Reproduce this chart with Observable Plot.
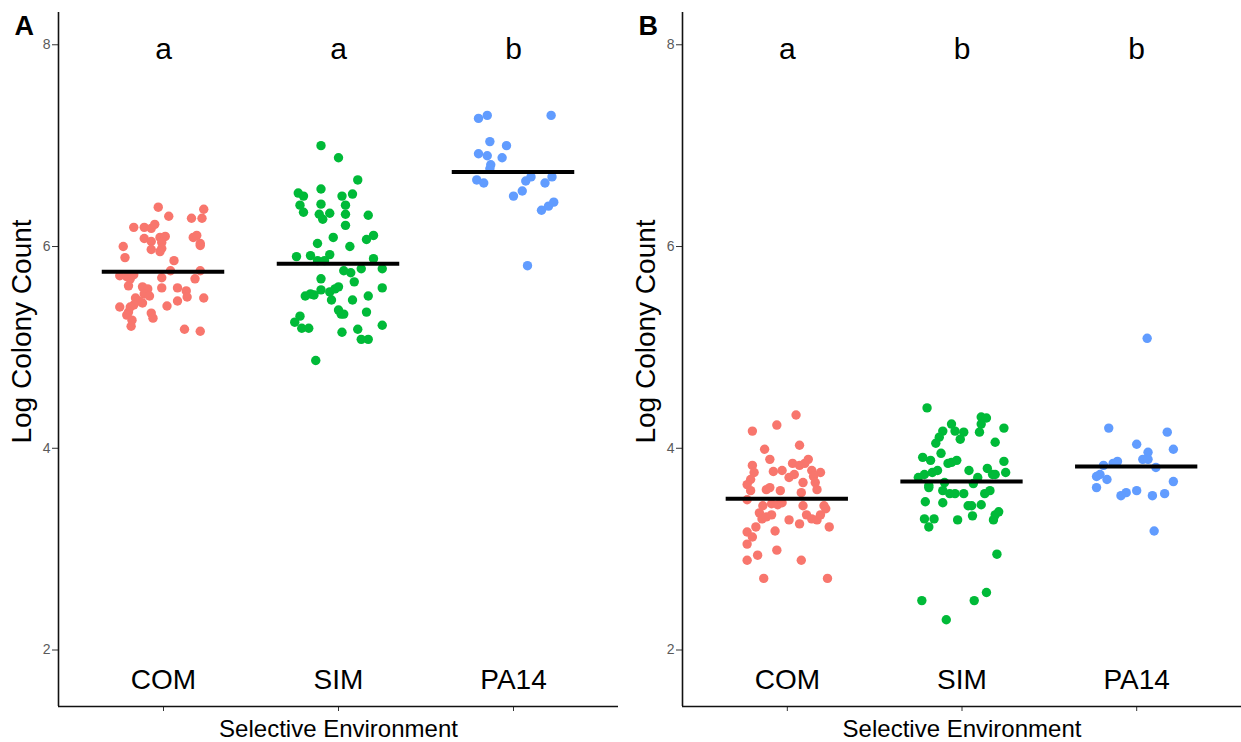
<!DOCTYPE html>
<html>
<head>
<meta charset="utf-8">
<script src="https://cdn.jsdelivr.net/npm/d3@7"></script>
<script src="https://cdn.jsdelivr.net/npm/@observablehq/plot@0.6"></script>
<style>
  html, body { margin: 0; padding: 0; background: #fff; }
  #chart { position: relative; width: 1241px; height: 742px; overflow: hidden; }
  #chart > div, #chart > svg { position: absolute; top: 0; }
</style>
</head>
<body>
<div id="chart"></div>
<script>
// ---------- data ----------
const categories = ["COM", "SIM", "PA14"];
const colors = ["#F8766D", "#00BA38", "#619CFF"];
const lettersA = ["a", "a", "b"];
const lettersB = ["a", "b", "b"];
const meansA = [5.75, 5.83, 6.74];
const meansB = [3.50, 3.67, 3.82];
const yTicks = [2, 4, 6, 8];
const xTitle = "Selective Environment";
const yTitle = "Log Colony Count";

// [jitter offset, value]
const comA = [[-0.03,6.39],[0.23,6.37],[0.03,6.30],[0.16,6.28],[0.22,6.28],[-0.17,6.19],[-0.11,6.19],[-0.07,6.18],[-0.05,6.22],[-0.11,6.08],[-0.07,6.05],[-0.02,6.09],[0.01,6.10],[-0.01,6.04],[0.17,6.09],[0.19,6.11],[0.21,6.03],[0.21,6.01],[-0.23,6.00],[-0.01,5.98],[-0.07,5.97],[-0.02,5.95],[-0.22,5.89],[0.06,5.86],[0.04,5.76],[0.21,5.76],[-0.25,5.71],[-0.21,5.70],[-0.17,5.72],[-0.19,5.68],[-0.20,5.61],[-0.01,5.69],[0.18,5.68],[-0.12,5.60],[-0.09,5.58],[-0.11,5.53],[-0.08,5.51],[-0.01,5.59],[0.08,5.59],[0.13,5.56],[0.135,5.50],[0.23,5.49],[-0.16,5.49],[-0.14,5.46],[-0.12,5.44],[-0.17,5.42],[-0.25,5.40],[-0.19,5.40],[0.08,5.46],[0.02,5.41],[-0.20,5.35],[-0.21,5.32],[-0.07,5.34],[-0.06,5.29],[-0.18,5.27],[-0.185,5.21],[0.12,5.18],[0.21,5.16]];
const simA = [[-0.10,7.00],[0.00,6.88],[0.11,6.66],[-0.10,6.57],[-0.23,6.53],[-0.20,6.50],[0.02,6.50],[0.08,6.52],[-0.22,6.41],[-0.10,6.42],[0.04,6.41],[-0.20,6.34],[-0.11,6.32],[-0.05,6.33],[0.04,6.32],[-0.09,6.27],[0.17,6.31],[0.04,6.21],[-0.03,6.09],[0.16,6.07],[0.20,6.11],[-0.12,6.03],[0.065,6.00],[-0.24,5.90],[-0.16,5.91],[-0.05,5.92],[-0.12,5.86],[-0.08,5.86],[0.20,5.88],[0.03,5.76],[0.07,5.74],[0.13,5.78],[0.25,5.78],[-0.10,5.68],[0.09,5.65],[0.25,5.59],[-0.10,5.57],[-0.19,5.51],[-0.16,5.53],[-0.14,5.52],[-0.05,5.55],[-0.02,5.58],[0.00,5.60],[-0.04,5.47],[0.17,5.51],[0.08,5.47],[0.00,5.37],[0.015,5.33],[0.03,5.33],[0.16,5.35],[-0.22,5.31],[-0.25,5.25],[-0.21,5.19],[-0.17,5.19],[0.02,5.15],[0.11,5.18],[0.25,5.22],[0.13,5.08],[0.17,5.08],[-0.13,4.87]];
const pa14A = [[-0.20,7.27],[-0.15,7.30],[0.215,7.30],[-0.135,7.04],[-0.04,7.00],[-0.20,6.92],[-0.15,6.90],[-0.065,6.88],[-0.13,6.81],[-0.135,6.77],[-0.21,6.66],[-0.17,6.63],[0.10,6.69],[0.07,6.65],[0.22,6.69],[0.18,6.63],[0.05,6.55],[0.00,6.50],[0.16,6.36],[0.20,6.40],[0.23,6.44],[0.08,5.81]];
const comB = [[0.05,4.33],[-0.20,4.17],[-0.06,4.23],[0.07,4.03],[-0.13,3.99],[-0.10,3.89],[-0.20,3.83],[0.03,3.85],[0.07,3.83],[0.12,3.89],[0.10,3.85],[-0.19,3.76],[-0.08,3.77],[-0.03,3.78],[0.14,3.78],[0.19,3.76],[-0.21,3.69],[0.01,3.71],[0.04,3.74],[0.15,3.72],[-0.23,3.64],[0.09,3.66],[0.16,3.66],[0.17,3.59],[-0.21,3.58],[-0.12,3.59],[-0.10,3.61],[-0.04,3.58],[0.08,3.56],[-0.23,3.49],[-0.14,3.43],[-0.09,3.45],[-0.055,3.44],[-0.03,3.46],[0.09,3.43],[0.21,3.43],[0.22,3.40],[-0.16,3.36],[-0.09,3.34],[0.11,3.34],[0.14,3.30],[0.17,3.29],[0.19,3.34],[-0.145,3.30],[-0.12,3.32],[0.01,3.29],[0.07,3.25],[-0.18,3.22],[0.24,3.22],[-0.23,3.17],[-0.20,3.12],[-0.07,3.18],[-0.23,3.05],[-0.06,2.99],[-0.17,2.94],[-0.23,2.89],[0.08,2.89],[-0.135,2.71],[0.23,2.71]];
const simB = [[-0.20,4.40],[-0.06,4.24],[-0.11,4.17],[-0.04,4.17],[0.01,4.16],[0.11,4.31],[0.14,4.30],[0.11,4.24],[0.24,4.20],[0.10,4.16],[-0.13,4.11],[-0.01,4.09],[-0.15,4.05],[0.19,4.06],[-0.12,3.95],[-0.225,3.91],[-0.18,3.88],[-0.08,3.85],[-0.06,3.86],[-0.03,3.88],[0.24,3.87],[0.04,3.78],[0.145,3.80],[0.25,3.76],[-0.17,3.76],[-0.14,3.78],[-0.215,3.74],[-0.25,3.71],[0.09,3.71],[0.175,3.74],[0.19,3.74],[0.065,3.65],[-0.19,3.61],[-0.10,3.66],[-0.19,3.63],[-0.11,3.58],[-0.07,3.55],[-0.04,3.55],[0.01,3.55],[0.13,3.55],[0.16,3.58],[-0.21,3.47],[-0.11,3.46],[0.035,3.43],[0.055,3.43],[0.11,3.44],[0.06,3.33],[-0.215,3.30],[-0.16,3.30],[-0.19,3.22],[-0.025,3.29],[0.18,3.29],[0.19,3.34],[0.21,3.37],[0.20,2.95],[-0.23,2.49],[0.07,2.49],[0.14,2.57],[-0.09,2.30]];
const pa14B = [[0.06,5.09],[-0.16,4.20],[0.175,4.16],[0.00,4.04],[0.21,3.99],[0.065,3.96],[0.035,3.89],[0.065,3.89],[-0.11,3.87],[-0.135,3.85],[-0.19,3.83],[0.11,3.81],[-0.21,3.74],[-0.23,3.72],[-0.17,3.69],[0.21,3.67],[-0.23,3.61],[-0.06,3.56],[-0.09,3.53],[0.00,3.58],[0.09,3.53],[0.16,3.55],[0.10,3.18]];

// ---------- drawing ----------
const font = "'Liberation Sans', Arial, Helvetica, sans-serif";
const yDomain = [1.44, 8.32];
const xDomain = [0.4, 3.6];

function rows(groups) {
  const out = [];
  groups.forEach((g, i) => g.forEach(([off, v]) => out.push({cat: categories[i], x: i + 1 + off, y: v})));
  return out;
}

function panel({tag, groups, means, letters, width, marginLeft, marginRight}) {
  const data = rows(groups);
  const meanRows = means.map((m, i) => ({x1: i + 1 - 0.35, x2: i + 1 + 0.35, y: m}));
  const cats = categories.map((c, i) => ({c, x: i + 1}));
  const lets = letters.map((l, i) => ({l, x: i + 1}));
  return Plot.plot({
    width, height: 742,
    marginLeft, marginRight, marginTop: 12, marginBottom: 36,
    x: {domain: xDomain},
    y: {domain: yDomain},
    color: {domain: categories, range: colors},
    style: {fontFamily: font, background: "#fff", overflow: "visible"},
    marks: [
      Plot.axisY(yTicks, {tickSize: 6, tickPadding: 2, fontSize: 14, tickFormat: d3.format("d"), fill: "#5a5a5a", stroke: "#333", strokeWidth: 1, label: null}),
      Plot.axisX([1, 2, 3], {tickSize: 5, tickFormat: () => "", stroke: "#333", strokeWidth: 1, label: null}),
      Plot.ruleX([xDomain[0]], {stroke: "#111", strokeWidth: 1.6}),
      Plot.ruleY([yDomain[0]], {stroke: "#111", strokeWidth: 1.6}),
      Plot.dot(data, {x: "x", y: "y", fill: "cat", r: 4.7}),
      Plot.ruleY(meanRows, {x1: "x1", x2: "x2", y: "y", stroke: "#000", strokeWidth: 4}),
      Plot.text(cats, {x: "x", text: "c", frameAnchor: "bottom", lineAnchor: "bottom", dy: -18, fontSize: 28, fill: "#000"}),
      Plot.text(lets, {x: "x", text: "l", frameAnchor: "top", lineAnchor: "bottom", dy: 46, fontSize: 30, fill: "#000"}),
      Plot.text([xTitle], {frameAnchor: "bottom", lineAnchor: "bottom", dy: 30, fontSize: 24, fill: "#000"}),
      Plot.text([yTitle], {frameAnchor: "left", textAnchor: "middle", lineAnchor: "middle", rotate: -90, dx: -36, dy: -28, fontSize: 28, fill: "#000"}),
      Plot.text([tag], {frameAnchor: "top-left", textAnchor: "start", lineAnchor: "bottom", dx: -44, dy: 22, fontSize: 27, fontWeight: "bold", fill: "#000"})
    ]
  });
}

const chart = document.getElementById("chart");
const a = panel({tag: "A", groups: [comA, simA, pa14A], means: meansA, letters: lettersA, width: 620, marginLeft: 58, marginRight: 2});
const b = panel({tag: "B", groups: [comB, simB, pa14B], means: meansB, letters: lettersB, width: 621, marginLeft: 62, marginRight: 0});
a.style.left = "0px";
b.style.left = "620px";
chart.appendChild(a);
chart.appendChild(b);
</script>
</body>
</html>
